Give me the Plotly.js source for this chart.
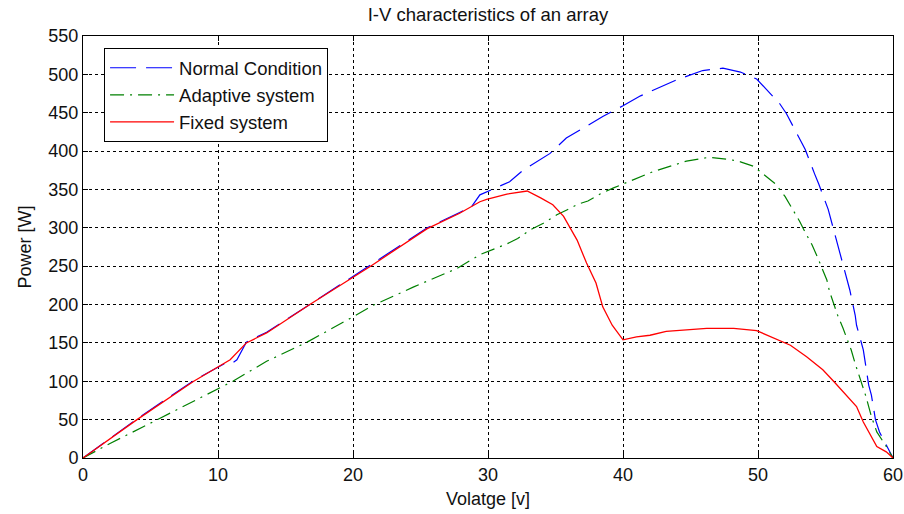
<!DOCTYPE html>
<html>
<head>
<meta charset="utf-8">
<script src="https://cdn.plot.ly/plotly-3.0.1.min.js"></script>
<style>html,body{margin:0;padding:0;background:#fff;}#chart{width:904px;height:514px;}</style>
</head>
<body>
<div id="chart"></div>
<script>
// Normal Condition
const normalV = [0, 4, 8.2, 9.9, 10.6, 11.0, 11.4, 12.1, 13.6, 16.8, 20, 21.3, 25.5, 27.9, 28.8, 29.4, 30.9, 31.6, 32.6, 33.4, 34.6, 35.8, 38.5, 40, 41.3, 44, 45.9, 47.4, 48.7, 49.9, 51.6, 52.1, 53.1, 53.5, 54.2, 54.5, 55.2, 55.4, 56.0, 56.6, 56.8, 57.2, 57.3, 57.8, 57.9, 58.2, 58.4, 58.7, 59.0, 59.9, 60];
const normalP = [0, 51, 101, 118, 124, 123, 128, 151, 164, 200, 237, 251, 300, 320, 328, 343, 354, 360, 375, 384, 397, 417, 445, 459, 472, 493, 505, 508, 503, 494, 462, 449, 415, 402, 370, 357, 324, 311, 272, 232, 219, 186, 173, 141, 128, 95, 82, 50, 34, 4, 0];
// Adaptive system
const adaptiveV = [0, 2, 4.5, 5.5, 8.7, 9.9, 11.1, 13.6, 16.6, 20, 21.5, 24.5, 27.7, 29.4, 30.4, 31.4, 32.2, 33.1, 34.1, 35.1, 35.8, 36.7, 37.4, 38.3, 39.3, 40, 41, 42.2, 44.7, 46.4, 47.9, 48.7, 49.7, 50.5, 51.3, 52, 52.6, 53.1, 53.5, 54, 54.4, 55.1, 55.3, 55.9, 56.3, 56.9, 57.2, 57.7, 58, 58.4, 58.8, 59.5, 60];
const adaptiveP = [0, 19, 41, 50, 78, 89, 100, 126, 151, 184, 199, 223, 247, 265, 272, 279, 286, 297, 306, 317, 323, 331, 335, 344, 352, 357, 365, 373, 387, 392, 389, 386, 380, 368, 357, 341, 324, 308, 294, 278, 262, 232, 217, 186, 169, 141, 123, 95, 80, 54, 34, 15, 0];
// Fixed system
const fixedV = [0, 4, 8.2, 9.9, 10.9, 12.1, 13.6, 16.8, 20, 21.3, 25.5, 27.9, 29.4, 29.9, 31.4, 32.9, 33.9, 34.8, 35.6, 36.6, 37.3, 38, 38.5, 39.2, 40, 41, 42, 43.2, 46.2, 48.2, 49.9, 51.1, 52.4, 53.6, 54.8, 55.6, 56.6, 57.3, 57.8, 58.3, 58.8, 59.5, 60];
const fixedP = [0, 50, 100, 117, 128, 150, 163, 200, 236, 250, 299, 319, 334, 337, 344, 348, 339, 330, 315, 284, 254, 228, 197, 173, 154, 158, 160, 165, 169, 169, 166, 157, 147, 132, 115, 100, 80, 67, 47, 30, 15, 8, 0];

const seriesNames = ["Normal Condition", "Adaptive system", "Fixed system"];
const xTicks = [0, 10, 20, 30, 40, 50, 60];
const yTicks = [0, 50, 100, 150, 200, 250, 300, 350, 400, 450, 500, 550];

const FONT = "Liberation Sans, Arial, Helvetica, sans-serif";

const traces = [
  {x: normalV, y: normalP, name: seriesNames[0], type: "scatter", mode: "lines",
   line: {color: "#0000ff", width: 1.2, dash: "26px,10px"}},
  {x: adaptiveV, y: adaptiveP, name: seriesNames[1], type: "scatter", mode: "lines",
   line: {color: "#008000", width: 1.2, dash: "14px,6px,2px,6px"}},
  {x: fixedV, y: fixedP, name: seriesNames[2], type: "scatter", mode: "lines",
   line: {color: "#ff0000", width: 1.3}}
];

const axisCommon = {
  showline: true, linecolor: "#000", linewidth: 1, mirror: "ticks",
  ticks: "inside", ticklen: 5, tickcolor: "#000", tickwidth: 1,
  showgrid: true, gridcolor: "#000", gridwidth: 1, griddash: "3px,3px",
  zeroline: false, tickfont: {family: FONT, size: 18, color: "#111"}
};

const layout = {
  width: 904, height: 514,
  margin: {l: 83, r: 11, t: 36, b: 56, pad: 0},
  paper_bgcolor: "#fff", plot_bgcolor: "#fff",
  font: {family: FONT, size: 18, color: "#111"},
  title: {text: "I-V characteristics of an array", font: {family: FONT, size: 18.5, color: "#111"},
          xref: "paper", x: 0.5, xanchor: "center", yref: "container", y: 0.972, yanchor: "middle"},
  xaxis: Object.assign({}, axisCommon, {range: [0, 60], tickvals: xTicks, ticktext: xTicks.map(String),
          title: {text: "Volatge [v]", font: {family: FONT, size: 18, color: "#111"}, standoff: 8}}),
  yaxis: Object.assign({}, axisCommon, {range: [0, 550], tickvals: yTicks, ticktext: yTicks.map(String),
          title: {text: "Power [W]", font: {family: FONT, size: 18, color: "#111"}, standoff: 12}}),
  showlegend: true,
  legend: {x: 0.026, y: 0.971, xanchor: "left", yanchor: "top", bgcolor: "#fff",
           bordercolor: "#000", borderwidth: 1, itemwidth: 64,
           font: {family: FONT, size: 18.5, color: "#111"}, tracegroupgap: 0}
};

Plotly.newPlot("chart", traces, layout, {displayModeBar: false, staticPlot: true});
</script>
</body>
</html>
